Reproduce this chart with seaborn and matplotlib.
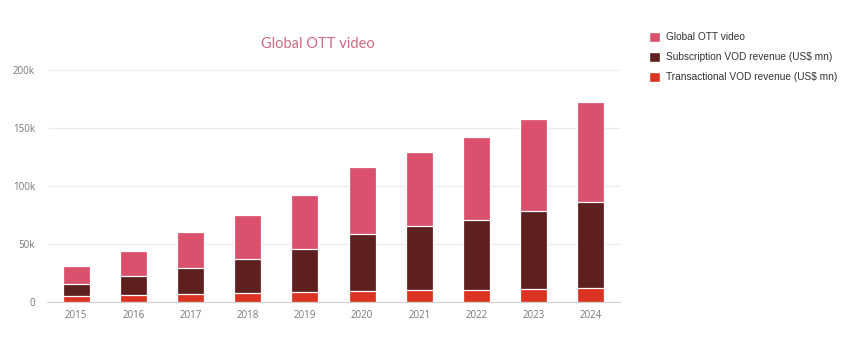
import numpy as np
import matplotlib
matplotlib.use('Agg')
import matplotlib.pyplot as plt
import seaborn as sns
from matplotlib.patches import Patch
from matplotlib.ticker import FuncFormatter

# Data (US$ mn)
years = ['2015', '2016', '2017', '2018', '2019', '2020', '2021', '2022', '2023', '2024']
transactional = [5200, 6300, 6900, 7800, 8400, 9100, 10000, 10600, 11500, 12000]
subscription = [10000, 15800, 22400, 29200, 37600, 49700, 55100, 60300, 67100, 74600]
global_ott = [16100, 21600, 30700, 38300, 46000, 57400, 64600, 71100, 79200, 86100]

labels = ['Global OTT video', 'Subscription VOD revenue (US$ mn)', 'Transactional VOD revenue (US$ mn)']
colors = ['#da516d', '#5e1f1f', '#db3322']

sns.set_style('white')
plt.rcParams['font.family'] = ['Open Sans', 'DejaVu Sans']

fig = plt.figure(figsize=(8.5, 3.6), dpi=100)
ax = fig.add_axes([47.5 / 850, 58 / 360, 572 / 850, 232 / 360])

# stacked bars: draw cumulative totals, tallest first
tvod = np.array(transactional)
svod = tvod + np.array(subscription)
total = svod + np.array(global_ott)
for vals, c in zip([total, svod, tvod], colors):
    sns.barplot(x=years, y=vals, color=c, saturation=1, width=0.47, edgecolor='white',
                linewidth=0.9, ax=ax, zorder=3)

ax.set_ylim(0, 200000)
ax.set_xlim(-0.5, 9.5)
ax.set_yticks([0, 50000, 100000, 150000, 200000])
ax.yaxis.set_major_formatter(FuncFormatter(lambda v, p: '0' if v == 0 else f'{int(v / 1000)}k'))
ax.grid(axis='y', color='#ebebeb', linewidth=0.8, zorder=0)
ax.set_axisbelow(True)
ax.set_xlabel('')
ax.set_ylabel('')

for s in ['top', 'right', 'left']:
    ax.spines[s].set_visible(False)
ax.spines['bottom'].set_color('#d0d0d0')
ax.spines['bottom'].set_linewidth(0.8)

# ticks at category boundaries, labels centred on bars
ax.set_xticks(np.arange(-0.5, 10, 1), minor=False)
ax.set_xticklabels([])
ax.set_xticks(np.arange(10), minor=True)
ax.set_xticklabels(years, minor=True)
ax.tick_params(axis='x', which='major', length=5, color='#d0d0d0', width=0.8, direction='out')
ax.tick_params(axis='x', which='minor', length=0, labelsize=7, labelcolor='#777777', pad=6)
ax.tick_params(axis='y', length=0, labelsize=7, labelcolor='#777777', pad=9)

fig.text(318 / 850, 1 - 44 / 360, 'Global OTT video', ha='center', va='center',
         fontsize=10.5, color='#cf6a82', family=['Lato', 'DejaVu Sans'])

handles = [Patch(facecolor=c, label=l) for c, l in zip(colors, labels)]
fig.legend(handles=handles, loc='upper left', bbox_to_anchor=(640 / 850, 1 - 23 / 360),
           frameon=False, prop={'family': ['Liberation Sans'], 'size': 7.3},
           labelcolor='#333333', handlelength=1.1, handleheight=1.1,
           handletextpad=0.6, labelspacing=0.95)

fig.savefig('out.png', dpi=100, facecolor='white')
